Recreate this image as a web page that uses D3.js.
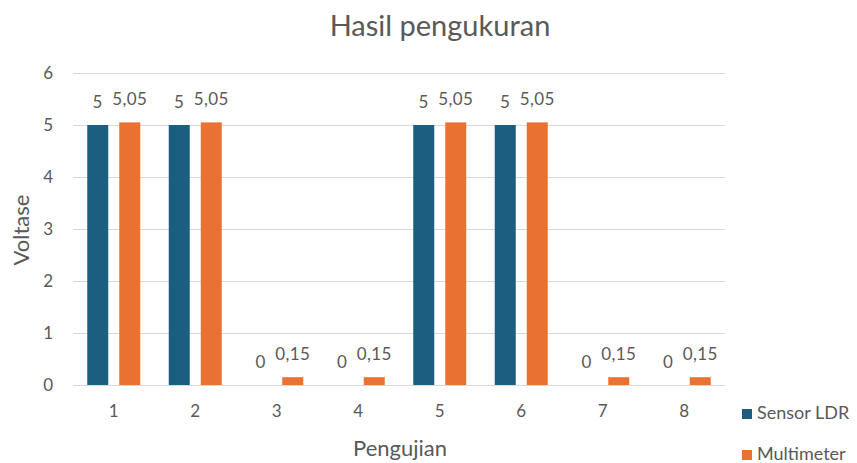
<!DOCTYPE html>
<html>
<head>
<meta charset="utf-8">
<script src="https://cdn.jsdelivr.net/npm/d3@7"></script>
<style>
  body { margin: 0; background: #fff; }
  svg { display: block; font-family: Lato, "Open Sans", sans-serif; }
</style>
</head>
<body>
<svg id="chart" width="857" height="463"></svg>
<script>
const categories = ["1", "2", "3", "4", "5", "6", "7", "8"];
const seriesNames = ["Sensor LDR", "Multimeter"];
const sensorLDR = [5, 5, 0, 0, 5, 5, 0, 0];
const multimeter = [5.05, 5.05, 0.15, 0.15, 5.05, 5.05, 0.15, 0.15];
const yTicks = [0, 1, 2, 3, 4, 5, 6];
const colors = ["#1b5e80", "#e97132"];
const textColor = "#595959";

const svg = d3.select("#chart");
const margin = { left: 73, right: 132, top: 73, bottom: 78 };
const W = 857, H = 463;

const x = d3.scaleBand().domain(categories).range([margin.left, W - margin.right]).padding(0);
const y = d3.scaleLinear().domain([0, 6]).range([H - margin.bottom, margin.top]);
const xs = d3.scaleBand().domain(seriesNames).range([0, x.bandwidth()])
  .paddingInner(0.344).paddingOuter(0.445);

// horizontal gridlines
svg.append("g").selectAll("line").data(yTicks).join("line")
  .attr("x1", margin.left).attr("x2", W - margin.right)
  .attr("y1", d => Math.round(y(d)) + 0.5).attr("y2", d => Math.round(y(d)) + 0.5)
  .attr("stroke", "#d9d9d9").attr("stroke-width", 1);

// y axis tick labels
const yAxis = svg.append("g").attr("transform", `translate(${margin.left - 20},0)`)
  .call(d3.axisLeft(y).tickValues(yTicks).tickFormat(d3.format("d")).tickSize(0).tickPadding(0));
yAxis.select(".domain").remove();
yAxis.selectAll("text").attr("fill", textColor)
  .style("font-size", "17px").style("font-family", "Lato, 'Open Sans', sans-serif");

// x axis tick labels
const xAxis = svg.append("g").attr("transform", `translate(0,${H - margin.bottom + 20})`)
  .call(d3.axisBottom(x).tickSize(0).tickPadding(0));
xAxis.select(".domain").remove();
xAxis.selectAll("text").attr("fill", textColor)
  .style("font-size", "17px").style("font-family", "Lato, 'Open Sans', sans-serif");

const data = categories.map((c, i) => ({ cat: c, vals: [sensorLDR[i], multimeter[i]] }));

const groups = svg.append("g").selectAll("g").data(data).join("g")
  .attr("transform", d => `translate(${x(d.cat)},0)`);

groups.selectAll("rect").data(d => d.vals.map((v, k) => ({ v, k }))).join("rect")
  .attr("x", d => xs(seriesNames[d.k]))
  .attr("width", xs.bandwidth())
  .attr("y", d => y(d.v))
  .attr("height", d => y(0) - y(d.v))
  .attr("fill", d => colors[d.k]);

// value labels above each bar
groups.selectAll("text").data(d => d.vals.map((v, k) => ({ v, k }))).join("text")
  .attr("x", d => xs(seriesNames[d.k]) + xs.bandwidth() / 2)
  .attr("y", d => y(d.v) - 17)
  .attr("text-anchor", "middle")
  .attr("fill", textColor)
  .style("font-size", "17px")
  .style("letter-spacing", "0.4px")
  .text(d => String(d.v).replace(".", ","));

// chart title
svg.append("text").attr("x", 440).attr("y", 36).attr("text-anchor", "middle")
  .attr("fill", textColor).style("font-size", "29px").text("Hasil pengukuran");

// axis titles
svg.append("text").attr("x", 400).attr("y", 456).attr("text-anchor", "middle")
  .attr("fill", textColor).style("font-size", "22px").text("Pengujian");
svg.append("text").attr("transform", "translate(29,230) rotate(-90)").attr("text-anchor", "middle")
  .attr("fill", textColor).style("font-size", "22px").text("Voltase");

// legend
const legend = svg.append("g").selectAll("g").data(seriesNames).join("g")
  .attr("transform", (d, i) => `translate(742,${409 + i * 41})`);
legend.append("rect").attr("width", 10).attr("height", 10).attr("fill", (d, i) => colors[i]);
legend.append("text").attr("x", 15).attr("y", 10).attr("fill", textColor)
  .style("font-size", "18px").text(d => d);
</script>
</body>
</html>
